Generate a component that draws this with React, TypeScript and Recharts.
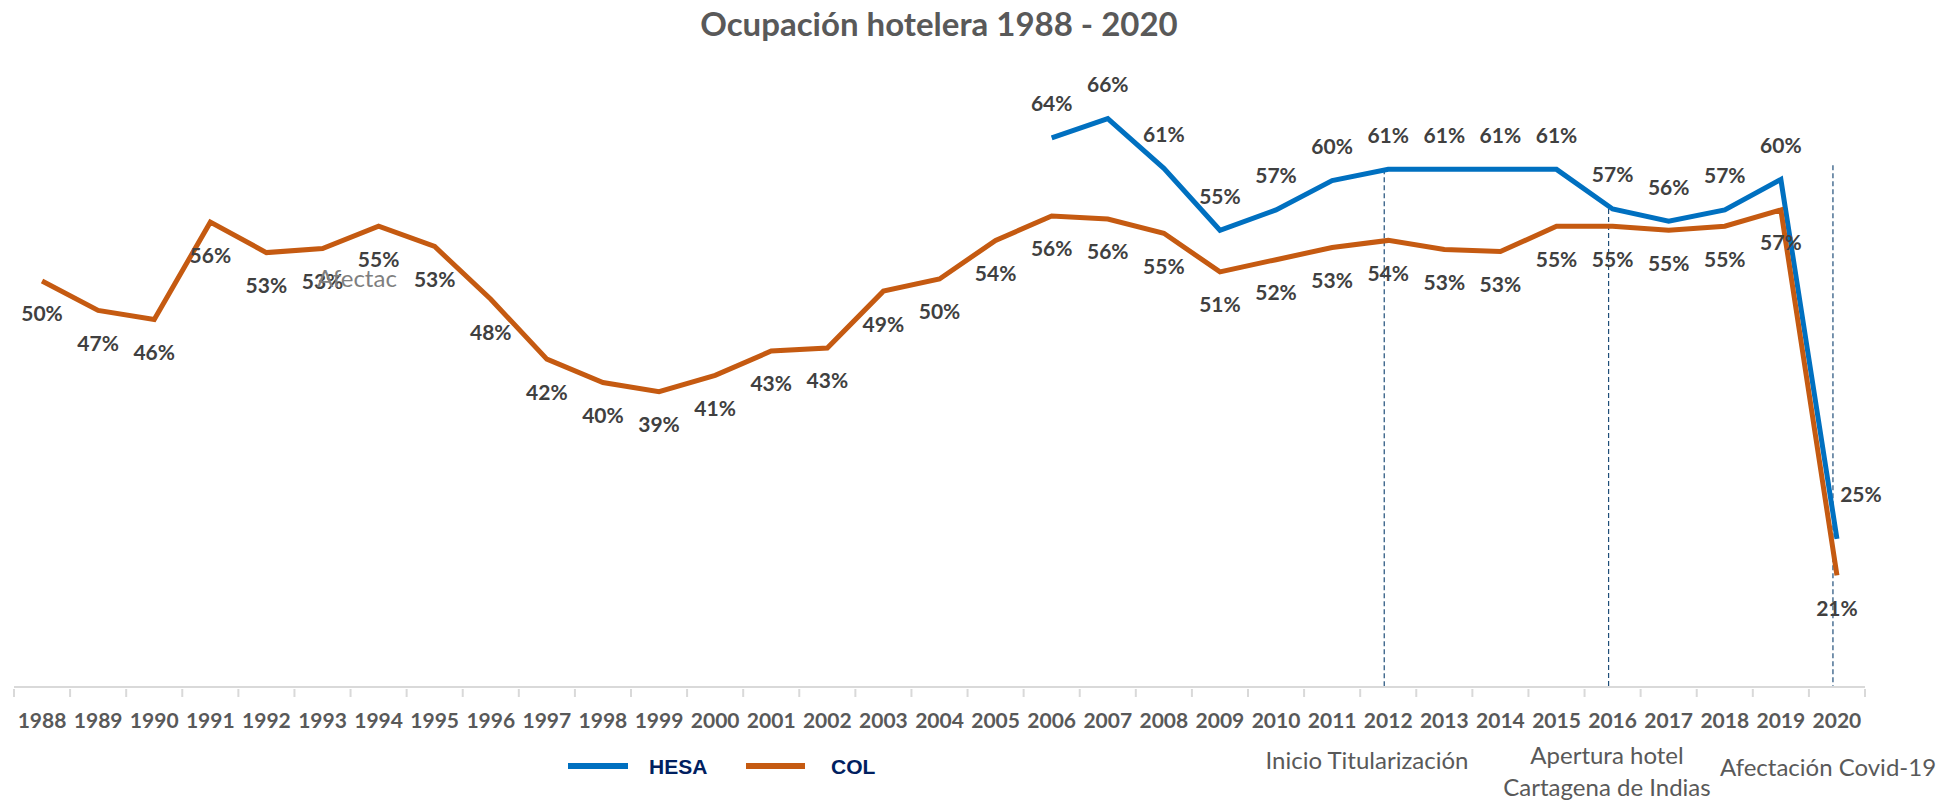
import { LineChart, Line, XAxis, YAxis, ReferenceLine, LabelList } from 'recharts'

const years = [
  '1988', '1989', '1990', '1991', '1992', '1993', '1994', '1995', '1996', '1997', '1998',
  '1999', '2000', '2001', '2002', '2003', '2004', '2005', '2006', '2007', '2008', '2009',
  '2010', '2011', '2012', '2013', '2014', '2015', '2016', '2017', '2018', '2019', '2020',
]

// ocupación Colombia
const col = [
  0.500, 0.471, 0.462, 0.558, 0.528, 0.532, 0.554, 0.534, 0.482, 0.423, 0.400,
  0.391, 0.407, 0.431, 0.434, 0.490, 0.502, 0.540, 0.564, 0.561, 0.547, 0.509,
  0.521, 0.533, 0.540, 0.531, 0.529, 0.554, 0.554, 0.550, 0.554, 0.570, 0.210,
]

// ocupación HESA (desde 2006)
const hesa: (number | null)[] = [
  null, null, null, null, null, null, null, null, null, null, null,
  null, null, null, null, null, null, null, 0.641, 0.660, 0.611, 0.550,
  0.570, 0.599, 0.610, 0.610, 0.610, 0.610, 0.571, 0.559, 0.570, 0.600, 0.246,
]

const events = [
  { year: '2012', top: 0.61 },
  { year: '2016', top: 0.571 },
  { year: '2020', top: 0.614 },
]

const data = years.map((y, i) => ({ year: y, col: col[i], hesa: hesa[i] }))

const W = 1949
const H = 802
const M = { top: 78, right: 84, bottom: 75, left: 14 }
const band = (W - M.left - M.right) / years.length

const pct = (v: number) => `${Math.round(v * 100)}%`

const labelStyle = { fontFamily: 'Lato', fontWeight: 700, fontSize: 21, fill: '#404040' }
const noteStyle = {
  position: 'absolute' as const,
  fontFamily: 'Lato',
  fontSize: 24,
  color: '#595959',
  whiteSpace: 'nowrap' as const,
  lineHeight: '32px',
  textAlign: 'center' as const,
}

const YearTick = (props: any) => {
  const { x, y, payload, index } = props
  return (
    <g>
      <line x1={x - band / 2} y1={y} x2={x - band / 2} y2={y + 8} stroke="#D9D9D9" strokeWidth={2} />
      {index === years.length - 1 && (
        <line x1={x + band / 2} y1={y} x2={x + band / 2} y2={y + 8} stroke="#D9D9D9" strokeWidth={2} />
      )}
      <text x={x} y={y + 34} textAnchor="middle" dominantBaseline="middle"
        style={{ fontFamily: 'Lato', fontWeight: 700, fontSize: 21, fill: '#595959' }}>
        {payload.value}
      </text>
    </g>
  )
}

// the event lines sit a little left of the category centre
const EventLine = (props: any) => {
  const { x1, y1, x2, y2 } = props
  return (
    <line x1={x1 - 4} y1={y1} x2={x2 - 4} y2={y2} stroke="#1F4E79" strokeWidth={1.2} strokeDasharray="5 3" />
  )
}

const ColLabel = (props: any) => {
  const { x, y, value } = props
  if (value == null) return null
  return (
    <text x={x} y={y + 35} textAnchor="middle" dominantBaseline="middle" style={labelStyle}>
      {pct(value)}
    </text>
  )
}

const HesaLabel = (props: any) => {
  const { x, y, value, index } = props
  if (value == null) return null
  const last = index === years.length - 1
  return (
    <text x={last ? x + 24 : x} y={last ? y - 42 : y - 32} textAnchor="middle" dominantBaseline="middle" style={labelStyle}>
      {pct(value)}
    </text>
  )
}

export default function App() {
  return (
    <div style={{ position: 'absolute', left: 0, top: 0, width: W, height: H, background: '#fff' }}>
      <div style={{
        position: 'absolute', left: 0, width: 1878, top: 3, textAlign: 'center',
        fontFamily: 'Lato', fontWeight: 700, fontSize: 33, color: '#595959',
      }}>
        Ocupación hotelera 1988 - 2020
      </div>

      <LineChart width={W} height={H} data={data} margin={M}>
        <XAxis
          dataKey="year"
          height={40}
          interval={0}
          tickSize={0}
          padding={{ left: band / 2, right: band / 2 }}
          axisLine={{ stroke: '#D9D9D9', strokeWidth: 2 }}
          tickLine={false}
          tick={<YearTick />}
        />
        <YAxis hide domain={[0.1, 0.7]} />
        {events.map((e) => (
          <ReferenceLine
            key={e.year}
            segment={[{ x: e.year, y: e.top }, { x: e.year, y: 0.1 }]}
            stroke="#1F4E79"
            strokeWidth={1.2}
            strokeDasharray="5 3"
            shape={(p: any) => <EventLine {...p} />}
          />
        ))}
        <Line
          type="linear"
          dataKey="hesa"
          stroke="#0070C0"
          strokeWidth={5}
          dot={false}
          isAnimationActive={false}
        >
          <LabelList dataKey="hesa" content={<HesaLabel />} />
        </Line>
        <Line
          type="linear"
          dataKey="col"
          stroke="#C55A11"
          strokeWidth={5}
          dot={false}
          isAnimationActive={false}
        >
          <LabelList dataKey="col" content={<ColLabel />} />
        </Line>
      </LineChart>

      <div style={{ ...noteStyle, left: 317, top: 262, color: '#7F7F7F' }}>Afectac</div>
      <div style={{ ...noteStyle, left: 1217, top: 744, width: 300 }}>Inicio Titularización</div>
      <div style={{ ...noteStyle, left: 1457, top: 739, width: 300 }}>Apertura hotel<br />Cartagena de Indias</div>
      <div style={{ ...noteStyle, left: 1678, top: 751, width: 300 }}>Afectación Covid-19</div>

      <div style={{ position: 'absolute', left: 568, top: 763, width: 60, height: 6, background: '#0070C0' }} />
      <div style={{
        position: 'absolute', left: 649, top: 755, fontFamily: 'Liberation Sans', fontWeight: 700,
        fontSize: 21, color: '#002060',
      }}>HESA</div>
      <div style={{ position: 'absolute', left: 746, top: 763, width: 59, height: 6, background: '#C55A11' }} />
      <div style={{
        position: 'absolute', left: 831, top: 755, fontFamily: 'Liberation Sans', fontWeight: 700,
        fontSize: 21, color: '#002060',
      }}>COL</div>
    </div>
  )
}
